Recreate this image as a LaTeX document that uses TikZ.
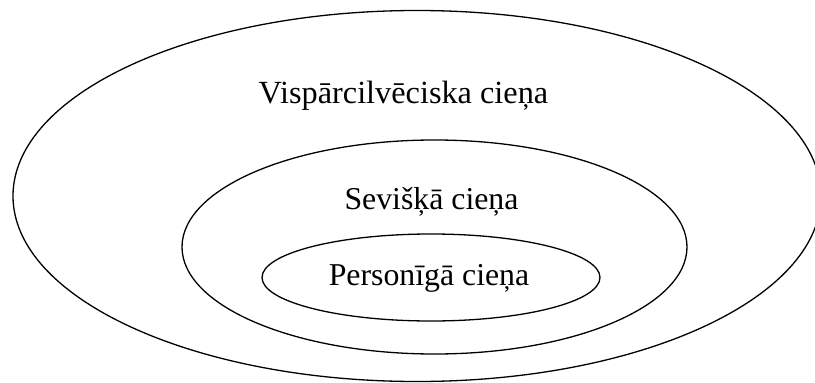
\documentclass[tikz,border=0pt]{standalone}
\usepackage{fontspec}
\setmainfont{Liberation Serif}
\begin{document}
\begin{tikzpicture}[x=1pt,y=-1pt,line width=1.3pt]

\useasboundingbox (0,0) rectangle (815,383);

\coordinate (O1) at (417,196);
\coordinate (O2) at (434.5,247);
\coordinate (O3) at (431,277.5);


\draw(O1)ellipse[x radius=404pt,y radius=185.5pt];
\draw(O2)ellipse[x radius=252.5pt,y radius=107pt];
\draw(O3)ellipse[x radius=169pt,y radius=43.5pt];


\node[anchor=base,font=\fontsize{32.3}{38}\selectfont](vispa) at (403.5,103){Vispārcilvēciska cieņa};
\node[anchor=base,font=\fontsize{31.8}{38}\selectfont](sevi) at (431.5,209){Sevišķā cieņa};
\node[anchor=base,font=\fontsize{31.8}{38}\selectfont](pers) at (429,285){Personīgā cieņa};

\end{tikzpicture}
\end{document}
